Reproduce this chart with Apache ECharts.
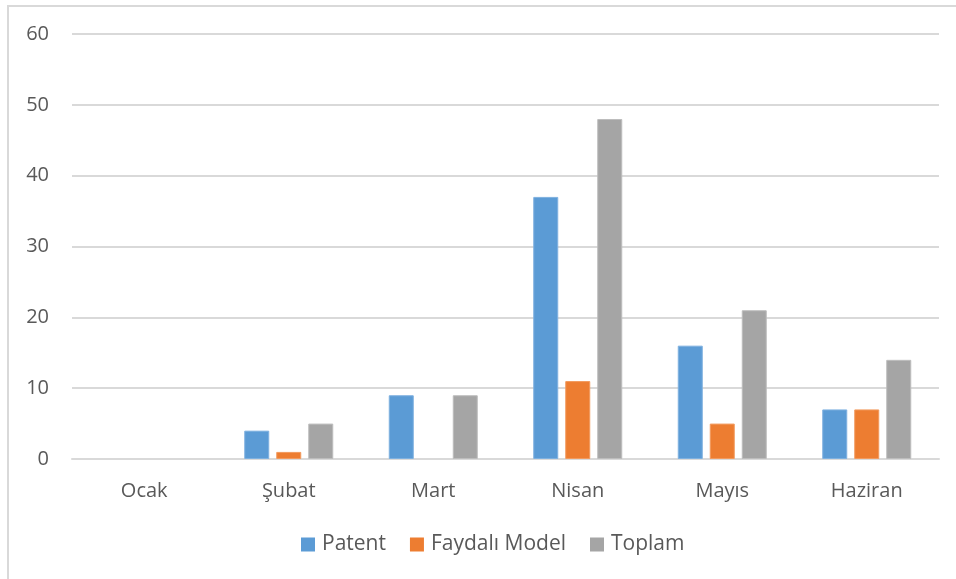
<!DOCTYPE html>
<html>
<head>
<meta charset="utf-8">
<script src="https://cdn.jsdelivr.net/npm/echarts@6/dist/echarts.min.js"></script>
<style>
  html, body { margin: 0; padding: 0; background: #fff; }
  #frame { position: absolute; left: 7px; top: 5px; width: 960px; height: 600px; border-left: 2px solid #d9d9d9; border-top: 2px solid #d9d9d9; box-sizing: border-box; }
  #chart { position: absolute; left: 0; top: 0; width: 956px; height: 579px; }
</style>
</head>
<body>
<div id="frame"></div>
<div id="chart"></div>
<script>
// Monthly counts per application type
const months = ['Ocak', 'Şubat', 'Mart', 'Nisan', 'Mayıs', 'Haziran'];
const patent = [0, 4, 9, 37, 16, 7];
const faydaliModel = [0, 1, 0, 11, 5, 7];
const toplam = [0, 5, 9, 48, 21, 14];
const seriesNames = ['Patent', 'Faydalı Model', 'Toplam'];
const yTicks = { min: 0, max: 60, interval: 10 };

const font = '"Open Sans", "Noto Sans", sans-serif';
const colors = ['#5b9bd5', '#ed7d31', '#a5a5a5'];
const borders = ['#7fb1e0', '#f29a5e', '#bdbdbd'];

const chart = echarts.init(document.getElementById('chart'), null, { renderer: 'canvas' });
const dataSets = [patent, faydaliModel, toplam];

// zero-height bars get no outline so nothing is drawn for them
const toItems = (values, i) => values.map(v => ({
  value: v,
  itemStyle: { borderWidth: v === 0 ? 0 : 1, borderColor: borders[i] }
}));

chart.setOption({
  animation: false,
  backgroundColor: 'transparent',
  grid: { left: 72, right: 17, top: 34, bottom: 120, containLabel: false },
  legend: {
    bottom: 19,
    left: 296,
    itemWidth: 14,
    itemHeight: 14,
    itemGap: 24,
    icon: 'rect',
    textStyle: { fontFamily: font, fontSize: 21, color: '#595959', padding: [0, 0, 0, 2] },
    data: seriesNames
  },
  xAxis: {
    type: 'category',
    data: months,
    axisLine: { lineStyle: { color: '#d9d9d9', width: 2 } },
    axisTick: { show: false },
    axisLabel: { fontFamily: font, fontSize: 20, color: '#595959', margin: 22 }
  },
  yAxis: {
    type: 'value',
    min: yTicks.min,
    max: yTicks.max,
    interval: yTicks.interval,
    axisLine: { show: false },
    axisTick: { show: false },
    axisLabel: { fontFamily: font, fontSize: 20, color: '#595959', margin: 23 },
    splitLine: { lineStyle: { color: '#d9d9d9', width: 2 } }
  },
  series: seriesNames.map((name, i) => ({
    name: name,
    type: 'bar',
    data: toItems(dataSets[i], i),
    barWidth: 25,
    barGap: '28%',
    barCategoryGap: '38%',
    itemStyle: { color: colors[i] }
  }))
});
</script>
</body>
</html>
